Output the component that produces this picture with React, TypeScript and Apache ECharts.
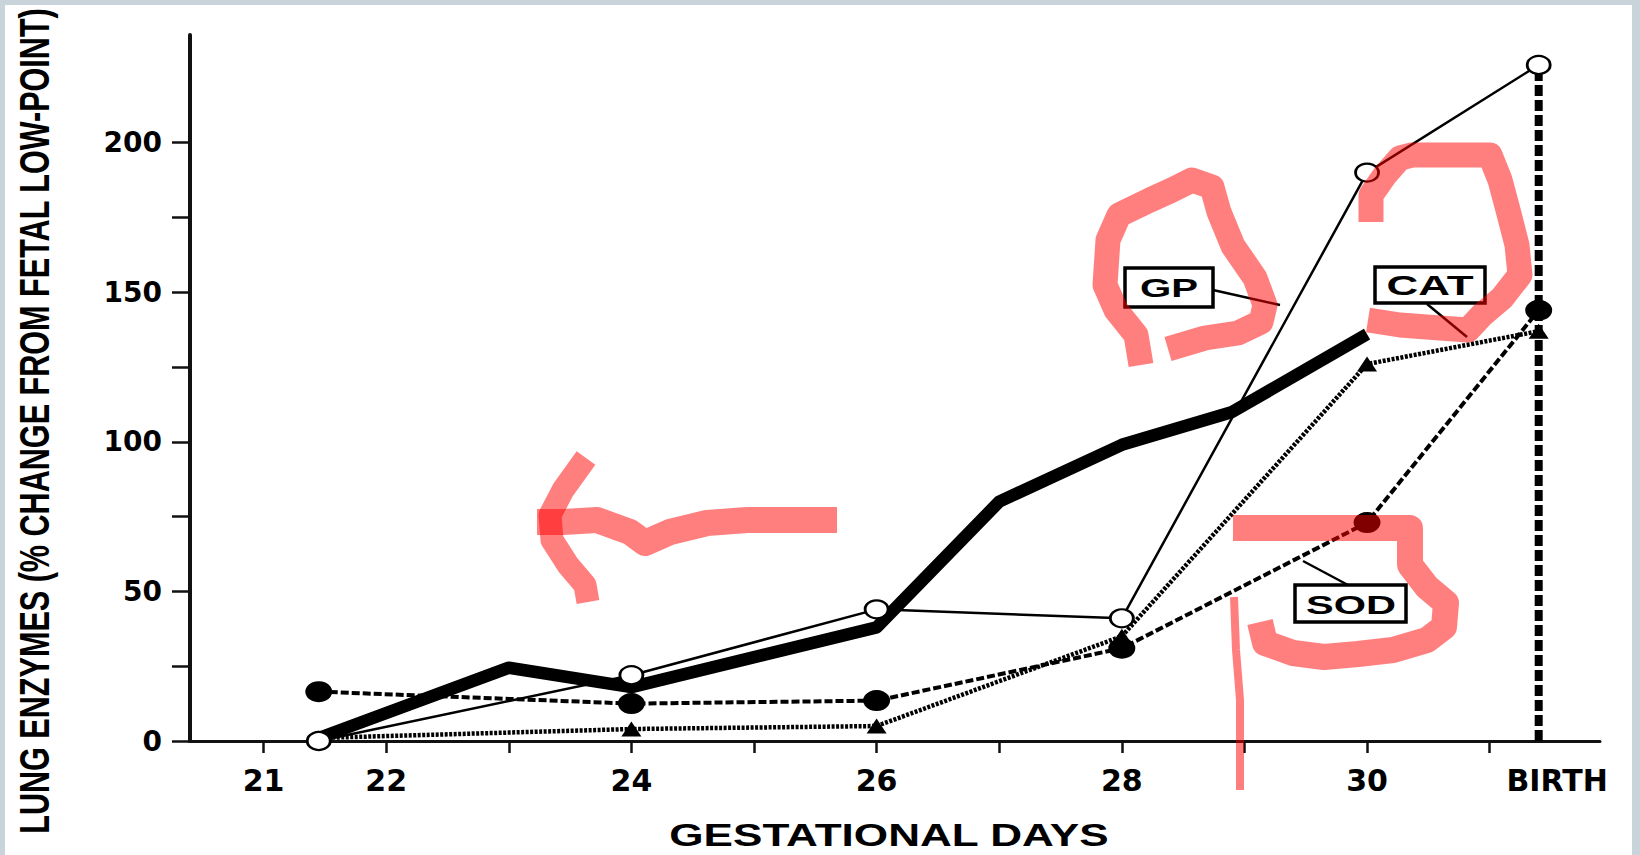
import React, { useEffect, useRef } from 'react';
import * as echarts from 'echarts';

// ---- axis ticks / labels ----
const DAY_TICKS = [21, 22, 23, 24, 25, 26, 27, 28, 29, 30, 31];
const BIRTH_LABEL_POS = 31.55;
const DAY_LABELS = [21, 22, 24, 26, 28, 30, BIRTH_LABEL_POS];
const Y_TICKS = [0, 25, 50, 75, 100, 125, 150, 175, 200];
const Y_LABELS = [0, 50, 100, 150, 200];

// ---- series data (day, % change) ----
const thickDays = [21.45, 23, 24, 26, 27, 28, 28.9, 30];
const thickValues = [1, 24.5, 18, 38, 80, 99, 110, 136];

const gpDays = [21.45, 24, 26, 28, 30, 31.4];
const gpValues = [0, 22, 44, 41, 190, 226];

const catDays = [21.45, 24, 26, 28, 30, 31.4];
const catValues = [1, 4, 5, 35, 126, 137];

const sodDays = [21.45, 24, 26, 28, 30, 31.4];
const sodValues = [16.5, 12.5, 13.5, 31, 73, 144];

const birthDays = [31.4, 31.4];
const birthValues = [0, 224];

const zip = (xs: number[], ys: number[]) => xs.map((x, i) => [x, ys[i]]);

const measure = (text: string, font: string) => {
  const ctx = document.createElement('canvas').getContext('2d')!;
  ctx.font = font;
  return ctx.measureText(text).width;
};

const fitText = (text: string, cx: number, cy: number, targetW: number, capH: number, rotation = 0) => {
  const fs = Math.round((capH / 0.716) * 10) / 10;
  const font = `bold ${fs}px "Liberation Sans", Arial, sans-serif`;
  const w = measure(text, font) || targetW;
  return {
    type: 'text',
    x: cx,
    y: cy,
    rotation,
    scaleX: targetW / w,
    z: 60,
    silent: true,
    style: {
      text,
      font,
      fill: '#000',
      align: 'center',
      verticalAlign: 'middle',
      textAlign: 'center',
      textVerticalAlign: 'middle',
    },
  };
};

const RED = 'rgba(255,0,0,0.5)';
const redStroke = (pts: number[][], width: number) => ({
  type: 'polyline',
  z: 100,
  silent: true,
  shape: { points: pts },
  style: { stroke: RED, lineWidth: width, fill: null, lineJoin: 'round', lineCap: 'butt' },
});

const box = (x: number, y: number, w: number, h: number) => ({
  type: 'rect',
  z: 50,
  silent: true,
  shape: { x, y, width: w, height: h },
  style: { fill: '#fff', stroke: '#000', lineWidth: 3.5 },
});

const leader = (x1: number, y1: number, x2: number, y2: number) => ({
  type: 'line',
  z: 50,
  silent: true,
  shape: { x1, y1, x2, y2 },
  style: { stroke: '#000', lineWidth: 2.5 },
});

export default function App() {
  const ref = useRef<HTMLDivElement>(null);

  useEffect(() => {
    const chart = echarts.init(ref.current!, null, { renderer: 'svg' });
    const option: any = {
      animation: false,
      backgroundColor: 'transparent',
      grid: { left: 190, right: 40, top: 35, bottom: 114 },
      xAxis: {
        type: 'value',
        min: 20.4,
        max: 31.9,
        axisLine: { lineStyle: { color: '#111', width: 3 } },
        axisTick: { customValues: DAY_TICKS, length: 12, lineStyle: { color: '#111', width: 2.5 } },
        axisLabel: {
          customValues: DAY_LABELS,
          formatter: (v: number) => (v > 31 ? 'BIRTH' : String(v)),
          fontFamily: 'DejaVu Sans',
          fontWeight: 'bold',
          fontSize: 30,
          color: '#000',
          margin: 24,
        },
        splitLine: { show: false },
      },
      yAxis: {
        type: 'value',
        min: 0,
        max: 236,
        axisLine: { show: true, lineStyle: { color: '#111', width: 4 } },
        axisTick: { show: true, customValues: Y_TICKS, length: 18, lineStyle: { color: '#111', width: 2.5 } },
        axisLabel: {
          customValues: Y_LABELS,
          fontFamily: 'DejaVu Sans',
          fontWeight: 'bold',
          fontSize: 28,
          color: '#000',
          margin: 28,
        },
        splitLine: { show: false },
      },
      series: [
        {
          name: 'birth',
          type: 'line',
          data: zip(birthDays, birthValues),
          symbol: 'none',
          z: 2,
          lineStyle: { color: '#000', width: 8, type: [11, 4] },
        },
        {
          name: 'thick',
          type: 'line',
          data: zip(thickDays, thickValues),
          symbol: 'none',
          z: 3,
          lineStyle: { color: '#000', width: 12.5, join: 'round' },
        },
        {
          name: 'CAT',
          type: 'line',
          data: zip(catDays, catValues),
          symbol: 'triangle',
          symbolSize: [20, 15],
          z: 4,
          itemStyle: { color: '#000' },
          lineStyle: { color: '#000', width: 4.5, type: [3, 1.5] },
        },
        {
          name: 'SOD',
          type: 'line',
          data: zip(sodDays, sodValues),
          symbol: 'circle',
          symbolSize: [27, 21],
          z: 5,
          itemStyle: { color: '#000' },
          lineStyle: { color: '#000', width: 4, type: [8, 3] },
        },
        {
          name: 'GP',
          type: 'line',
          data: zip(gpDays, gpValues),
          symbol: 'circle',
          symbolSize: [23, 18],
          z: 6,
          itemStyle: { color: '#fff', borderColor: '#000', borderWidth: 2.5 },
          lineStyle: { color: '#000', width: 2.5 },
        },
      ],
      graphic: [
        fitText('LUNG ENZYMES (% CHANGE FROM FETAL LOW-POINT)', 35, 421, 826, 30, Math.PI / 2),
        fitText('GESTATIONAL DAYS', 889, 835, 440, 23),
        leader(1213, 290, 1280, 305),
        leader(1427, 304, 1467, 337),
        leader(1348, 585, 1303, 561),
        box(1125, 268, 88, 39),
        box(1375, 267, 110, 36),
        box(1295, 585, 111, 37),
        fitText('GP', 1169, 288, 58, 19),
        fitText('CAT', 1430, 286, 87, 20),
        fitText('SOD', 1351, 604, 90, 19),
        // red hand-drawn annotations
        redStroke([[837, 520], [747, 520], [707, 523], [670, 532], [645, 543], [630, 532], [597, 520], [563, 522], [537, 522]], 26),
        redStroke([[586, 458], [563, 490], [550, 515], [552, 540], [568, 565], [585, 585], [588, 602]], 23),
        redStroke([[1141, 365], [1136, 335], [1116, 310], [1105, 285], [1108, 240], [1119, 215], [1150, 200], [1172, 190], [1192, 180], [1212, 187], [1219, 212], [1233, 246], [1255, 278], [1265, 305], [1261, 322], [1238, 333], [1205, 338], [1168, 349]], 25),
        redStroke([[1371, 222], [1371, 195], [1385, 175], [1400, 158], [1412, 155], [1490, 155], [1500, 180], [1508, 210], [1517, 245], [1520, 275], [1502, 298], [1482, 315], [1468, 330], [1440, 328], [1400, 325], [1368, 320]], 25),
        redStroke([[1233, 528], [1410, 528], [1410, 565], [1427, 587], [1446, 603], [1444, 627], [1427, 640], [1393, 650], [1358, 654], [1324, 657], [1293, 653], [1265, 643], [1260, 622]], 26),
        redStroke([[1234, 597], [1236, 650], [1240, 700], [1240, 790]], 8),
      ],
    };
    chart.setOption(option);
    return () => chart.dispose();
  }, []);

  return (
    <div style={{ position: 'absolute', left: 0, top: 0, width: 1640, height: 855, background: '#c8d3da', overflow: 'hidden' }}>
      <div style={{ position: 'absolute', left: 5, top: 5, width: 1627, height: 850, background: '#fff' }} />
      <div ref={ref} style={{ position: 'absolute', left: 0, top: 0, width: 1640, height: 855 }} />
    </div>
  );
}
